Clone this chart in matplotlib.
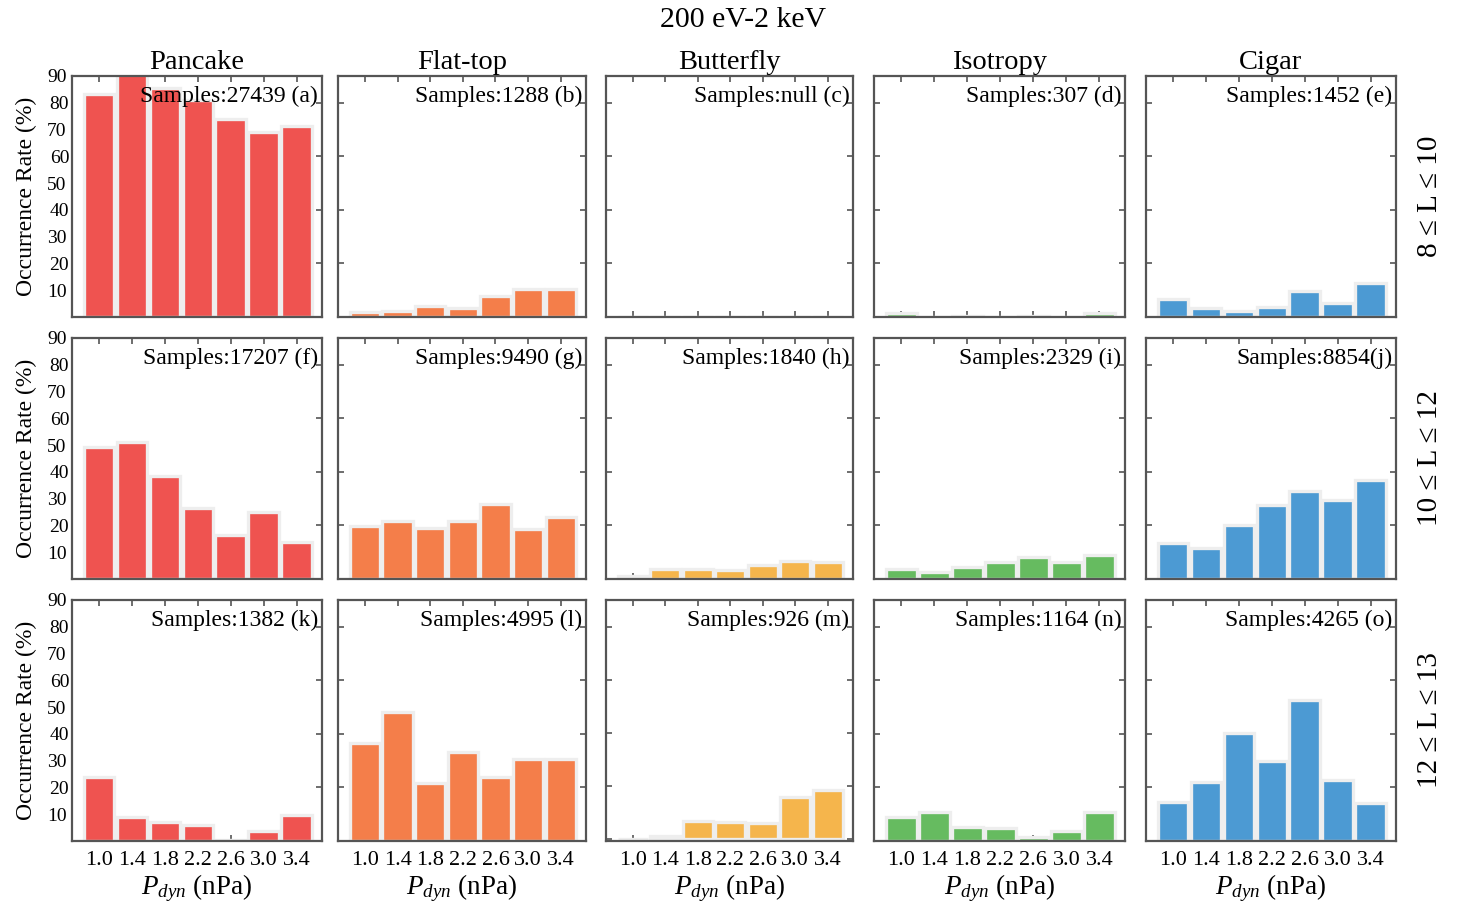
import matplotlib
matplotlib.use("Agg")
import matplotlib.pyplot as plt
import numpy as np

# ---------------- data ----------------
pdyn_labels = ["1.0", "1.4", "1.8", "2.2", "2.6", "3.0", "3.4"]
pdyn = [1.0, 1.4, 1.8, 2.2, 2.6, 3.0, 3.4]
types = ["Pancake", "Flat-top", "Butterfly", "Isotropy", "Cigar"]
rows = ["8 \u2264 L \u2264 10", "10 \u2264 L \u2264 12", "12 \u2264 L \u2264 13"]

pancake_rate = [
    [83.2, 92.0, 85.4, 81.0, 74.0, 69.0, 71.4],
    [49.2, 51.1, 38.3, 26.6, 16.5, 24.9, 13.7],
    [24.0, 8.8, 7.0, 5.9, 0.3, 3.6, 9.6],
]
flattop_rate = [
    [1.9, 2.2, 4.0, 3.3, 8.0, 10.4, 10.6],
    [19.9, 21.8, 19.2, 21.8, 28.1, 18.8, 23.3],
    [36.5, 48.1, 21.5, 33.1, 24.0, 30.7, 30.7],
]
butterfly_rate = [
    [0, 0, 0, 0, 0, 0, 0],
    [1.3, 3.7, 3.9, 3.2, 5.1, 6.7, 6.5],
    [0.0, 1.25, 6.6, 6.4, 6.1, 16.0, 18.4],
]
isotropy_rate = [
    [1.6, 0.0, 0.5, 0.0, 0.5, 0.0, 1.6],
    [3.6, 2.8, 4.3, 6.5, 8.4, 6.5, 8.8],
    [9.1, 11.0, 5.4, 5.0, 1.5, 3.9, 10.8],
]
cigar_rate = [
    [6.8, 3.5, 2.2, 3.8, 9.7, 5.2, 12.6],
    [13.5, 11.4, 20.0, 27.7, 32.9, 29.6, 36.8],
    [14.4, 22.2, 40.2, 29.9, 52.8, 22.9, 14.1],
]
samples = [
    ["Samples:27439 (a)", "Samples:1288 (b)", "Samples:null (c)", "Samples:307 (d)", "Samples:1452 (e)"],
    ["Samples:17207 (f)", "Samples:9490 (g)", "Samples:1840 (h)", "Samples:2329 (i)", "Samples:8854(j)"],
    ["Samples:1382 (k)", "Samples:4995 (l)", "Samples:926 (m)", "Samples:1164 (n)", "Samples:4265 (o)"],
]
all_rates = [pancake_rate, flattop_rate, butterfly_rate, isotropy_rate, cigar_rate]
colors = ["#EF5350", "#F47E4A", "#F5B54C", "#66BB60", "#4C9AD3"]

# ---------------- style ----------------
plt.rcParams['font.family'] = ['Liberation Serif', 'DejaVu Serif']
plt.rcParams['mathtext.fontset'] = 'custom'
plt.rcParams['mathtext.rm'] = 'Liberation Serif'
plt.rcParams['mathtext.it'] = 'Liberation Serif:italic'

W, H = 1462, 907
fig = plt.figure(figsize=(W / 100, H / 100), dpi=100)

row_y = [(76, 317), (338, 579), (600, 841)]
col_x = [(72, 322), (338, 586), (606, 853), (874, 1125), (1146, 1396)]
spine_c = "#555555"

for r in range(3):
    for c in range(5):
        x0, x1 = col_x[c]
        y0, y1 = row_y[r]
        ax = fig.add_axes([x0 / W, 1 - y1 / H, (x1 - x0) / W, (y1 - y0) / H])
        ax.bar(pdyn, all_rates[c][r], width=0.372, color=colors[c],
               edgecolor="#EEEEEE", linewidth=2.4, zorder=2)
        ax.set_xlim(0.67, 3.71)
        if r == 2 and c == 2:
            ax.set_ylim(-0.75, 90)
        else:
            ax.set_ylim(0, 90)
        for s in ax.spines.values():
            s.set_color(spine_c)
            s.set_linewidth(1.6)
        ax.set_xticks(pdyn)
        ax.tick_params(axis='x', direction='in', top=True, bottom=True,
                       length=4, width=1.2, color=spine_c,
                       labelsize=16, pad=7)
        if r == 2:
            ax.set_xticklabels(pdyn_labels)
            ax.set_xlabel(r"$P_{dyn}$ (nPa)", fontsize=19.5, labelpad=2)
        else:
            ax.set_xticklabels([])
        if c == 0:
            ax.set_yticks([20, 40, 60, 80])
            ax.set_yticklabels(["20", "40", "60", "80"])
            ax.set_yticks([10, 30, 50, 70, 90], minor=True)
            ax.set_yticklabels(["10", "30", "50", "70", "90"], minor=True)
            ax.tick_params(axis='y', which='major', direction='in', left=False, right=True,
                           length=4, width=1.2, color=spine_c, labelsize=14, pad=2)
            ax.tick_params(axis='y', which='minor', left=False, right=False,
                           labelleft=True, labelsize=14, pad=2)
            ax.set_ylabel("Occurrence Rate (%)", fontsize=17, labelpad=7)
        else:
            if r == 2 and c == 2:
                ax.set_yticks([0, 20, 40, 60, 80])
            else:
                ax.set_yticks([20, 40, 60, 80])
            ax.set_yticklabels([])
            ax.tick_params(axis='y', direction='in', left=True, right=True,
                           length=4, width=1.2, color=spine_c)
        ax.text(0.985, 0.96, samples[r][c], transform=ax.transAxes,
                ha='right', va='top', fontsize=17, zorder=5)
        if r == 0:
            ax.set_title(types[c], fontsize=20.5, pad=5)
        if c == 4:
            fig.text(1430 / W, 1 - ((y0 + y1) / 2) / H, rows[r], rotation=90,
                     ha='center', va='center', fontsize=21)

fig.text(0.508, 1 - 20 / H, "200 eV-2 keV", ha='center', va='center', fontsize=21.5)

fig.savefig("out.png", dpi=100)
